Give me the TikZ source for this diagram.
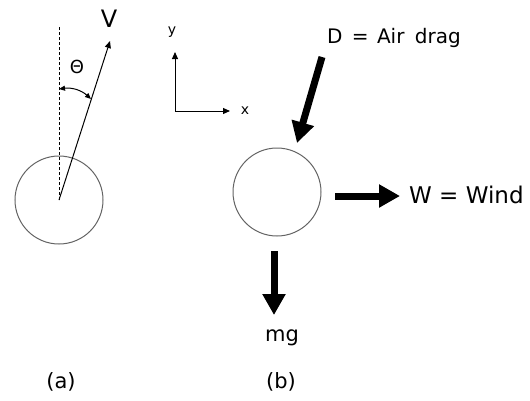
\documentclass[tikz,border=0pt]{standalone}
\usepackage{fontspec}
\setmainfont{DejaVu Sans}
\usetikzlibrary{arrows.meta}
\definecolor{ballgray}{RGB}{100,100,100}
\begin{document}
\begin{tikzpicture}[x=1pt,y=-1pt,
  ball/.style={circle, draw=ballgray, line width=1pt, minimum size=88pt, inner sep=0pt},
  thinarrow/.style={line width=1pt, -{Triangle[length=7pt,width=6pt]}},
  twoarrow/.style={line width=1pt, {Triangle[length=6pt,width=5pt]}-{Triangle[length=6pt,width=5pt]}},
  bigarrow/.style={line width=7pt, -{Triangle[length=21pt,width=22pt]}},
  lbl/.style={inner sep=0pt}]
\useasboundingbox (0,0) rectangle (530,400);
% (a)
\node[ball] (ca) at (59,200) {};
\coordinate (ctop) at (59,27);
\draw[line width=0.9pt, dash pattern=on 3pt off 2pt] (ca.center) -- (ctop);
\coordinate (vtip) at (110,41);
\draw[thinarrow] (ca.center) -- (vtip);
\node[lbl, font=\fontsize{24}{28}\selectfont] (V) at (109,19) {V};
\coordinate (th1) at (59,89);
\coordinate (th2) at (91,99);
\draw[twoarrow] (th1) to[bend left=25] (th2);
\node[lbl, font=\fontsize{18}{21}\selectfont] (theta) at (77,67) {Θ};
% axes
\coordinate (o) at (175,111);
\coordinate (ytip) at (175,52);
\coordinate (xtip) at (230,111);
\draw[thinarrow] (o) -- (ytip);
\draw[thinarrow] (o) -- (xtip);
\node[lbl, font=\fontsize{14}{16}\selectfont] (ylab) at (172,32) {y};
\node[lbl, font=\fontsize{14}{16}\selectfont] (xlab) at (245,111) {x};
% (b)
\node[ball] (cb) at (277,192) {};
\coordinate (d0) at (322,57);
\coordinate (d1) at (297,143);
\draw[bigarrow] (d0) -- (d1);
\node[lbl, anchor=west, font=\fontsize{20}{23}\selectfont] (dlab) at (327,38) {D\hspace{3pt} = \hspace{2pt}Air\hspace{4pt} drag};
\coordinate (w0) at (335,196);
\coordinate (w1) at (400,196);
\draw[bigarrow] (w0) -- (w1);
\node[lbl, anchor=west, font=\fontsize{23}{26}\selectfont] (wlab) at (409,195) {W = Wind};
\coordinate (m0) at (274,251);
\coordinate (m1) at (274,315);
\draw[bigarrow] (m0) -- (m1);
\node[lbl, font=\fontsize{21}{24}\selectfont] (mg) at (282,338) {mg};
\node[lbl, font=\fontsize{21}{24}\selectfont] (la) at (61,382) {(a)};
\node[lbl, font=\fontsize{21}{24}\selectfont] (lb) at (281,382) {(b)};
\end{tikzpicture}
\end{document}
